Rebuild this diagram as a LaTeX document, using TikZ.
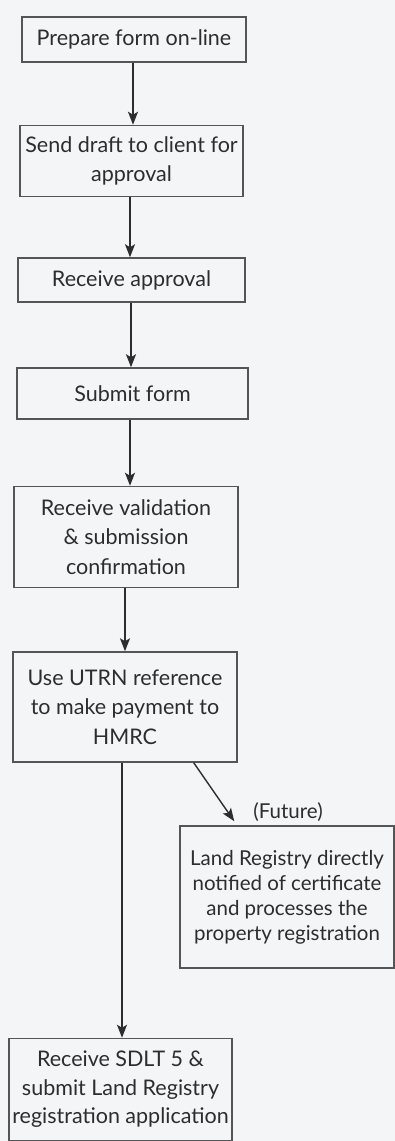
\documentclass[tikz,border=0pt]{standalone}
\usepackage{fontspec}
\setmainfont{Lato}
\usetikzlibrary{arrows.meta}
\definecolor{bg}{RGB}{243,245,247}
\definecolor{ink}{RGB}{45,45,45}
\definecolor{boxline}{RGB}{85,85,85}
\tikzset{
  stepbox/.style={draw=boxline, line width=1.5pt, align=center, text=ink, inner sep=0pt,
    font=\fontsize{21.5}{29.5}\selectfont},
  arr/.style={draw=ink, line width=1.4pt, -{Stealth[length=13pt,width=10pt,inset=3pt]}},
}
\begin{document}
\begin{tikzpicture}[x=1pt,y=-1pt]
\fill[bg] (0,0) rectangle (395,1141);
\useasboundingbox (0,0) rectangle (395,1141);

\node[stepbox, minimum width=224pt, minimum height=45pt] (b1) at (134,39.5) {Prepare form on-line};
\node[stepbox, minimum width=223pt, minimum height=71pt] (b2) at (131.5,161) {Send draft to client for\\approval};
\node[stepbox, minimum width=227pt, minimum height=44pt] (b3) at (131.5,280) {Receive approval};
\node[stepbox, minimum width=231pt, minimum height=51pt] (b4) at (132.5,393.5) {Submit form};
\node[stepbox, minimum width=224pt, minimum height=101pt] (b5) at (126,537) {Receive validation\\\& submission\\confirmation};
\node[stepbox, minimum width=224pt, minimum height=110pt] (b6) at (125,707) {Use UTRN reference\\to make payment to\\HMRC};
\node[stepbox, minimum width=214pt, minimum height=142pt, font=\fontsize{20.5}{25}\selectfont] (b8) at (287,897) {Land Registry directly\\notified of certificate\\and processes the\\property registration};
\node[stepbox, minimum width=223pt, minimum height=102pt, font=\fontsize{21.5}{28.5}\selectfont] (b7) at (120.5,1089.5) {Receive SDLT 5 \&\\submit Land Registry\\registration application};
\node[text=ink, font=\fontsize{20.5}{24}\selectfont] (fut) at (288,812) {(Future)};

\draw[arr] ([xshift=-1pt]b1.south) -- ([xshift=-1pt]b1.south |- b2.north);
\draw[arr] ([xshift=-1.5pt]b2.south) -- ([xshift=-1.5pt]b2.south |- b3.north);
\draw[arr] ([xshift=-0.5pt]b3.south) -- ([xshift=-0.5pt]b3.south |- b4.north);
\draw[arr] ([xshift=-2.5pt]b4.south) -- ([xshift=-2.5pt]b4.south |- b5.north);
\draw[arr] ([xshift=-1pt]b5.south) -- ([xshift=-1pt]b5.south |- b6.north);
\draw[arr] ([xshift=-3pt]b6.south) -- ([xshift=-3pt]b6.south |- b7.north);
\draw[arr] ([xshift=-44pt]b6.south east) -- ([xshift=55pt,yshift=4pt]b8.north west);
\end{tikzpicture}
\end{document}
